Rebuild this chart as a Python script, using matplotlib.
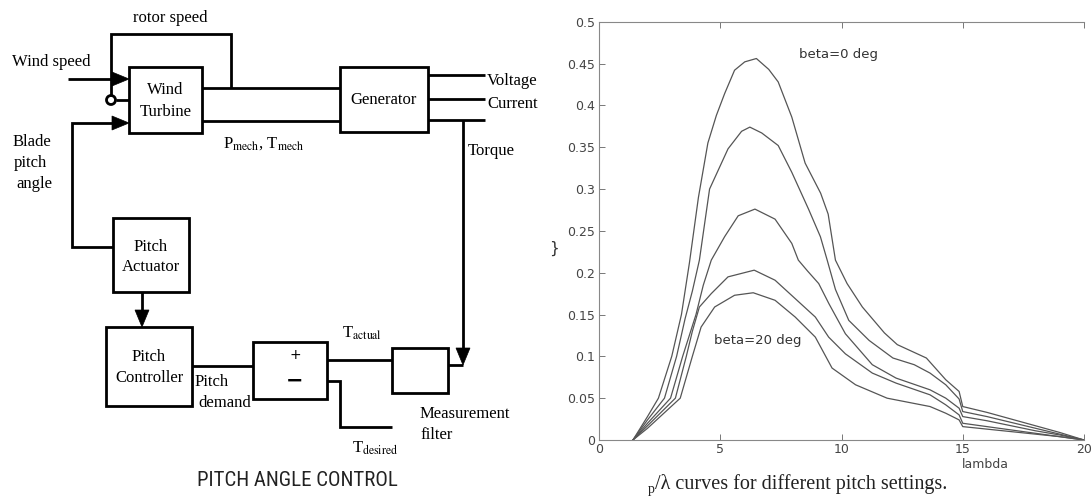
import matplotlib
matplotlib.use("Agg")
import matplotlib.pyplot as plt
from matplotlib.patches import Rectangle, Polygon, Circle
from matplotlib import font_manager

plt.rcParams['mathtext.fontset'] = 'stix'

# ---- Cp / lambda curves ----
lam1 = [1.4, 2.0, 2.45, 3.0, 3.4, 3.73, 4.1, 4.49, 4.84, 5.18, 5.59, 6.01, 6.49, 7.0, 7.39,
        7.95, 8.5, 9.14, 9.45, 9.75, 10.23, 10.86, 11.77, 12.3, 13.5, 14.3, 14.85, 15.0,
        16.0, 17.0, 18.0, 19.0, 20.0]
cp1 = [0, 0.028, 0.05, 0.10, 0.15, 0.212, 0.29, 0.355, 0.388, 0.414, 0.442, 0.452, 0.456, 0.443,
       0.428, 0.386, 0.331, 0.295, 0.27, 0.215, 0.187, 0.159, 0.128, 0.114, 0.098, 0.072, 0.058,
       0.040, 0.033, 0.025, 0.017, 0.009, 0.0]

lam2 = [1.4, 2.0, 2.7, 3.2, 3.55, 3.85, 4.14, 4.56, 5.32, 5.88, 6.22, 6.71, 7.39, 7.95, 8.64,
        9.13, 9.41, 9.75, 10.3, 11.14, 12.12, 13.0, 13.65, 14.3, 14.85, 15.0, 16, 17, 18, 19, 20]
cp2 = [0, 0.024, 0.05, 0.10, 0.145, 0.178, 0.215, 0.30, 0.348, 0.369, 0.374, 0.367, 0.352, 0.320,
       0.276, 0.243, 0.215, 0.18, 0.143, 0.119, 0.098, 0.090, 0.080, 0.066, 0.049, 0.034, 0.028,
       0.021, 0.014, 0.007, 0]

lam3 = [1.4, 2.0, 2.95, 3.45, 4.0, 4.3, 4.63, 5.18, 5.74, 6.43, 7.26, 7.95, 8.22, 8.6, 9.06,
        9.48, 10.16, 11.27, 12.25, 13.65, 14.3, 14.85, 15.0, 16, 17, 18, 19, 20]
cp3 = [0, 0.02, 0.05, 0.10, 0.15, 0.185, 0.215, 0.243, 0.268, 0.276, 0.264, 0.235, 0.215, 0.202,
       0.187, 0.163, 0.127, 0.090, 0.074, 0.060, 0.050, 0.038, 0.028, 0.023, 0.017, 0.011, 0.006, 0]

lam4 = [1.4, 2.0, 3.15, 3.6, 3.85, 4.14, 4.63, 5.32, 6.4, 7.26, 8.09, 8.92, 9.47, 10.16, 11.27,
        12.25, 13.65, 14.3, 14.85, 15.0, 16, 17, 18, 19, 20]
cp4 = [0, 0.017, 0.05, 0.10, 0.13, 0.159, 0.175, 0.195, 0.203, 0.191, 0.169, 0.147, 0.123, 0.103,
       0.080, 0.068, 0.054, 0.042, 0.030, 0.020, 0.016, 0.012, 0.008, 0.004, 0]

lam5 = [1.4, 2.0, 3.35, 3.85, 4.21, 4.77, 5.59, 6.36, 7.26, 8.09, 8.92, 9.61, 10.58, 11.88,
        13.65, 14.3, 14.85, 15.0, 16, 17, 18, 19, 20]
cp5 = [0, 0.014, 0.05, 0.10, 0.135, 0.159, 0.173, 0.176, 0.167, 0.147, 0.123, 0.086, 0.066, 0.050,
       0.040, 0.032, 0.024, 0.016, 0.013, 0.010, 0.007, 0.004, 0]

xticks = [0, 5, 10, 15, 20]
xtick_labels = ['0', '5', '10', '15', '20']
yticks = [0, 0.05, 0.1, 0.15, 0.2, 0.25, 0.3, 0.35, 0.4, 0.45, 0.5]
ytick_labels = ['0', '0.05', '0.1', '0.15', '0.2', '0.25', '0.3', '0.35', '0.4', '0.45', '0.5']

# ---- figure ----
W, H = 1091, 503
fig = plt.figure(figsize=(W / 100, H / 100), dpi=100)

# block diagram drawn on a pixel-coordinate overlay
dg = fig.add_axes([0, 0, 1, 1])
dg.set_xlim(0, W)
dg.set_ylim(H, 0)
dg.axis('off')

LW = 2.0
SERIF = 'Liberation Serif'
FS = 12


def box(x0, y0, x1, y1):
    dg.add_patch(Rectangle((x0, y0), x1 - x0, y1 - y0, fill=False, ec='black', lw=LW))


def wire(pts):
    xs = [p[0] for p in pts]
    ys = [p[1] for p in pts]
    dg.plot(xs, ys, color='black', lw=LW, solid_capstyle='butt', solid_joinstyle='miter')


def head(tx, ty, d, ln=17, hw=7):
    if d == 'right':
        pts = [(tx, ty), (tx - ln, ty - hw), (tx - ln, ty + hw)]
    else:  # down
        pts = [(tx, ty), (tx - hw, ty - ln), (tx + hw, ty - ln)]
    dg.add_patch(Polygon(pts, closed=True, fc='black', ec='black', lw=0.5))


def label(x, y, s, ha='left', size=FS):
    dg.text(x, y, s, ha=ha, va='center', fontsize=size, family=SERIF, color='black')


# boxes
box(129, 67, 202, 133)      # wind turbine
box(340, 67, 428, 132)      # generator
box(112.5, 218, 189, 292)   # pitch actuator
box(106, 327, 192, 406)     # pitch controller
box(253, 342, 327, 399)     # summing junction
box(392, 348, 448, 393)     # measurement filter

# wiring
wire([(231, 88), (231, 34), (111, 34), (111, 95.5)])
wire([(68, 79), (115, 79)])
head(129, 79, 'right')
dg.add_patch(Circle((111, 100), 4.5, fill=False, ec='black', lw=LW))
wire([(115.5, 100), (129, 100)])
wire([(113, 247), (72, 247), (72, 123), (115, 123)])
head(129, 123, 'right')
wire([(202, 88), (340, 88)])
wire([(202, 121), (340, 121)])
wire([(428, 75), (485, 75)])
wire([(428, 99), (485, 99)])
wire([(428, 120), (485, 120)])
wire([(463, 120), (463, 350)])
head(463, 365, 'down')
wire([(448, 365), (463, 365)])
wire([(142, 292), (142, 312)])
head(142, 327, 'down')
wire([(192, 366), (253, 366)])
wire([(327, 360), (392, 360)])
wire([(327, 381), (340, 381), (340, 427), (392, 427)])

# labels
label(170, 18, 'rotor speed', ha='center')
label(12, 62, 'Wind speed')
label(165.5, 90, 'Wind', ha='center')
label(165.5, 112, 'Turbine', ha='center')
label(384, 100, 'Generator', ha='center')
label(487, 81, 'Voltage')
label(487, 104, 'Current')
label(223, 144, r'P$_{\mathrm{mech}}$, T$_{\mathrm{mech}}$')
label(468, 151, 'Torque')
label(13, 142, 'Blade')
label(14, 163, 'pitch')
label(16, 184, 'angle')
label(151, 247, 'Pitch', ha='center')
label(151, 267, 'Actuator', ha='center')
label(149, 357, 'Pitch', ha='center')
label(149, 378, 'Controller', ha='center')
label(195, 382, 'Pitch')
label(198, 403, 'demand')
dg.text(295, 355, '+', ha='center', va='center', fontsize=10, family='DejaVu Sans', color='black')
dg.text(295, 381, '\u2212', ha='center', va='center', fontsize=15, family='DejaVu Sans',
        weight='bold', color='black')
label(342, 333, r'T$_{\mathrm{actual}}$')
label(352, 448, r'T$_{\mathrm{desired}}$')
label(420, 414, 'Measurement')
label(420, 435, 'filter')

names = {f.name for f in font_manager.fontManager.ttflist}
narrow = None
for cand in ['Liberation Sans Narrow', 'Roboto Condensed', 'Open Sans Condensed', 'DejaVu Sans Condensed']:
    if cand in names:
        narrow = cand
        break
if narrow:
    dg.text(297, 480, 'PITCH ANGLE CONTROL', ha='center', va='center', fontsize=15,
            family=narrow, color='#222222')
else:
    dg.text(297, 480, 'PITCH ANGLE CONTROL', ha='center', va='center', fontsize=12.5,
            family='Roboto', color='#222222')

# ---- Cp chart ----
ax = fig.add_axes([599 / W, (H - 440) / H, (1084 - 599) / W, (440 - 21.7) / H])
for lam, cp in [(lam1, cp1), (lam2, cp2), (lam3, cp3), (lam4, cp4), (lam5, cp5)]:
    ax.plot(lam, cp, color='#555555', lw=0.9)

ax.set_xlim(0, 20)
ax.set_ylim(0, 0.5)
ax.set_xticks(xticks)
ax.set_xticklabels(xtick_labels)
ax.set_yticks(yticks)
ax.set_yticklabels(ytick_labels)
ax.spines['right'].set_visible(False)
for s in ['left', 'bottom', 'top']:
    ax.spines[s].set_color('#888888')
    ax.spines[s].set_linewidth(0.8)
ax.tick_params(direction='in', length=4, width=0.7, top=True, right=False,
               color='#777777', labelcolor='#444444', labelsize=9, pad=3)
ax.tick_params(axis='x', pad=2)

ax.text(9.86, 0.461, 'beta=0 deg', ha='center', va='center', fontsize=9.5, color='#333333')
ax.text(4.74, 0.1195, 'beta=20 deg', ha='left', va='center', fontsize=9.5, color='#333333')

dg.text(985, 465, 'lambda', ha='center', va='center', fontsize=9, color='#444444')
dg.text(554, 248, '}', ha='center', va='center', fontsize=11, color='#333333')
dg.text(651, 490, 'p', ha='center', va='center', fontsize=10, family=SERIF, color='#222222')
dg.text(655, 484, '/\u03bb curves for different pitch settings.', ha='left', va='center',
        fontsize=14.5, family=SERIF, color='#222222')

fig.savefig('out.png', dpi=100)
